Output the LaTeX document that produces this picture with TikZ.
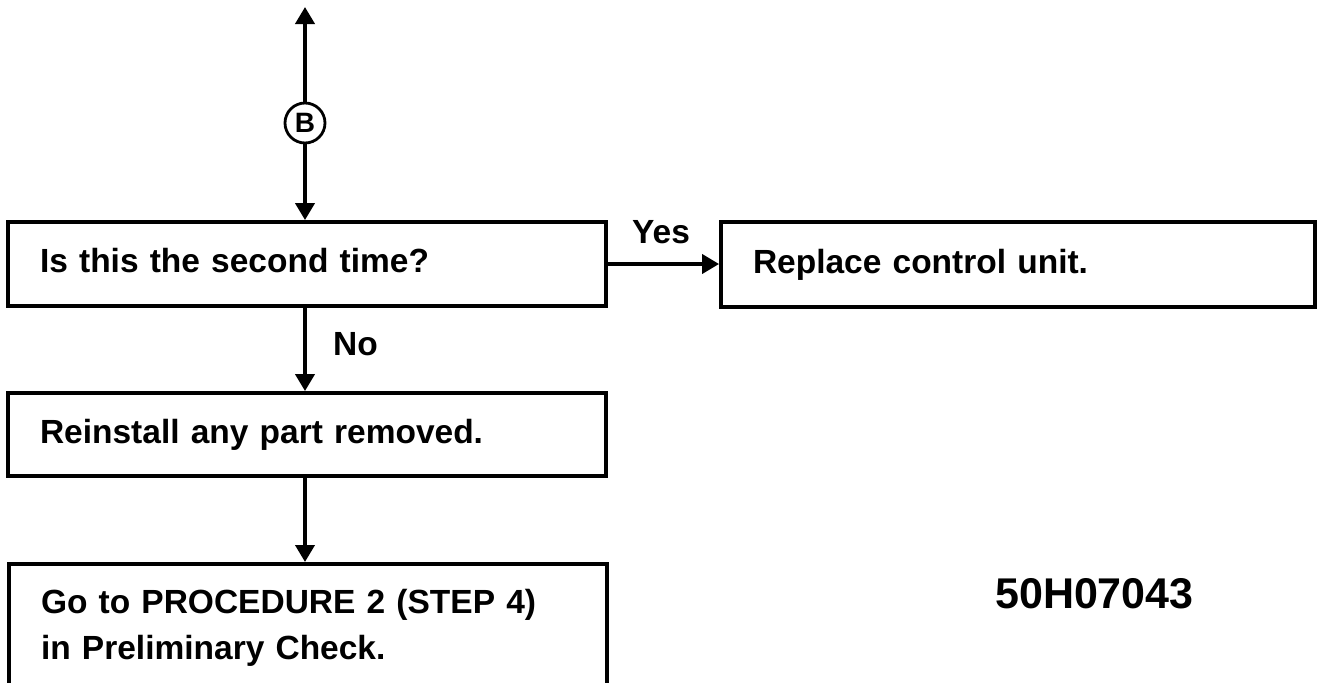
\documentclass[tikz,border=0pt]{standalone}
\usepackage{fontspec}
\setmainfont{Liberation Sans}
\usetikzlibrary{arrows.meta}
\begin{document}
\begin{tikzpicture}[x=1pt,y=-1pt,
  boxbase/.style={draw, line width=3.8pt, rectangle, inner xsep=32pt, inner ysep=0pt,
    align=left, font=\fontsize{33.5}{46}\selectfont\bfseries},
  box/.style={boxbase, text height=25pt, text depth=8pt},
  conn/.style={line width=3.8pt, -{Triangle[length=17pt,width=19pt]}},
  lbl/.style={font=\fontsize{33.5}{46}\selectfont\bfseries, inner sep=0pt}]
\useasboundingbox (0,0) rectangle (1318,683);
% connector B
\node[circle, draw, line width=2.8pt, minimum size=40pt, inner sep=0pt,
  font=\fontsize{28}{28}\selectfont\bfseries] (B) at (305,123) {B};
\coordinate (top) at (305,7);
% boxes
\node[box, text width=534pt, minimum height=84pt] (q) at (307,264) {Is this the second time?};
\node[box, text width=530pt, minimum height=85pt] (r) at (1018,264.5) {Replace control unit.};
\node[box, text width=534pt, minimum height=83pt] (re) at (307,434.5) {Reinstall any part removed.};
\node[boxbase, text width=534pt, minimum height=127pt, anchor=north] (g) at (308,562)
  {Go to PROCEDURE 2 (STEP 4)\\in Preliminary Check.};
% labels
\node[lbl, anchor=base west] (yes) at (632,243) {Yes};
\node[lbl, anchor=base west] (no) at (333,355) {No};
\node[font=\fontsize{43}{43}\selectfont\bfseries, anchor=base west, inner sep=0pt] (code) at (995,608) {50H07043};
% connectors
\draw[conn] (B.north) -- (top);
\draw[conn] (B.south) -- (B |- q.north);
\draw[conn] (q.east) -- (q.east -| r.west);
\draw[conn] (q.south -| B) -- (re.north -| B);
\draw[conn] (re.south -| B) -- (g.north -| B);
\end{tikzpicture}
\end{document}
